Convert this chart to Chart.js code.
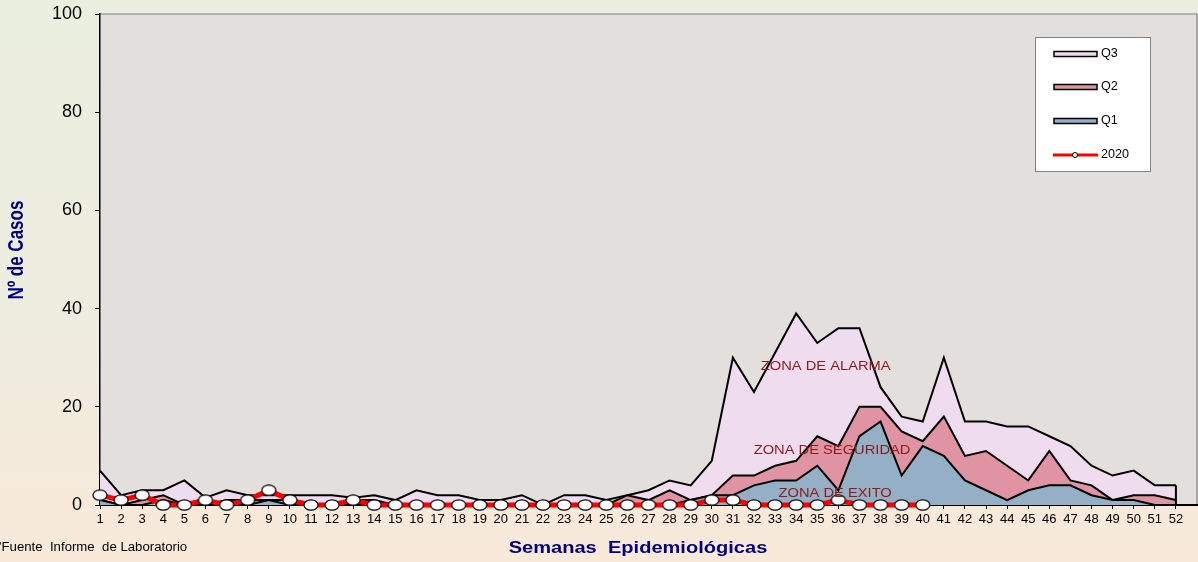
<!DOCTYPE html>
<html>
<head>
<meta charset="utf-8">
<script src="https://cdn.jsdelivr.net/npm/chart.js@4/dist/chart.umd.min.js"></script>
<style>
  html, body { margin: 0; padding: 0; background: #f3ecdd; overflow: hidden; }
  #wrap { width: 1198px; height: 562px; }
  canvas { display: block; }
</style>
</head>
<body>
<div id="wrap"><canvas id="canalChart"></canvas></div>
<script>
// semanas epidemiologicas
const weeks = Array.from({ length: 52 }, (_, i) => i + 1);
const yTicks = [0, 20, 40, 60, 80, 100];

// canal endemico (cuartiles)
const q3 = [7, 2, 3, 3, 5, 1.5, 3, 2, 2, 2, 2, 2, 1.5, 2, 1, 3, 2, 2, 1, 1, 2, 0, 2, 2, 1, 2,
  3, 5, 4, 9, 30, 23, 31, 39, 33, 36, 36, 24, 18, 17, 30, 17, 17, 16, 16, 14, 12, 8, 6, 7, 4, 4];
const q2 = [1, 0, 1, 2, 0, 0, 1, 1, 1, 1, 0, 0, 1, 1, 0, 0, 0, 0, 0, 0, 0, 0, 0, 0, 0, 2,
  1, 3, 1, 2, 6, 6, 8, 9, 14, 12, 20, 20, 15, 13, 18, 10, 11, 8, 5, 11, 5, 4, 1, 2, 2, 1];
const q1 = [1, 0, 0, 1, 0, 0, 0, 0, 1, 0, 0, 0, 0, 0, 0, 0, 0, 0, 0, 0, 0, 0, 0, 0, 0, 0,
  0, 0, 1, 2, 2, 4, 5, 5, 8, 3, 14, 17, 6, 12, 10, 5, 3, 1, 3, 4, 4, 2, 1, 1, 0, 0];
// casos 2020 (hasta semana 40)
const casos2020 = [2, 1, 2, 0, 0, 1, 0, 1, 3, 1, 0, 0, 1, 0, 0, 0, 0, 0, 0, 0, 0, 0, 0, 0, 0, 0,
  0, 0, 0, 1, 1, 0, 0, 0, 0, 1, 0, 0, 0, 0];

const zoneLabels = [
  { text: 'ZONA DE ALARMA', x: 35.4, y: 28.3 },
  { text: 'ZONA DE SEGURIDAD', x: 35.7, y: 11.2 },
  { text: 'ZONA DE EXITO', x: 35.85, y: 2.4 }
];

const toPoints = arr => arr.map((v, i) => ({ x: weeks[i], y: v }));

const COLORS = {
  q3: '#f0dcef',
  q2: '#e093a3',
  q1: '#94afc6',
  red: '#ff0000',
  navy: '#000080',
  zone: '#8b1a1a',
  plot: '#e2dfdc'
};

// white ellipse marker (the source picture is a bit stretched sideways)
function makeMarker() {
  const c = document.createElement('canvas');
  c.width = 16; c.height = 12;
  const g = c.getContext('2d');
  g.beginPath();
  g.ellipse(8, 6, 7, 5.2, 0, 0, Math.PI * 2);
  g.fillStyle = '#ffffff';
  g.fill();
  g.lineWidth = 1.2;
  g.strokeStyle = '#000000';
  g.stroke();
  return c;
}

function stretchedText(ctx, text, x, y, font, color, align, sx) {
  ctx.save();
  ctx.font = font;
  ctx.fillStyle = color;
  ctx.textBaseline = 'middle';
  ctx.textAlign = align;
  ctx.translate(x, y);
  ctx.scale(sx, 1);
  ctx.fillText(text, 0, 0);
  ctx.restore();
}

const backgroundPlugin = {
  id: 'backgroundPlugin',
  beforeDraw(chart) {
    const { ctx, chartArea: a, width, height } = chart;
    ctx.save();
    const grad = ctx.createLinearGradient(0, 0, 0, height);
    grad.addColorStop(0, '#ebefe0');
    grad.addColorStop(0.55, '#ededdf');
    grad.addColorStop(0.9, '#f7eadb');
    grad.addColorStop(1, '#f8e9da');
    ctx.fillStyle = grad;
    ctx.fillRect(0, 0, width, height);
    ctx.fillStyle = COLORS.plot;
    ctx.fillRect(a.left, a.top, a.right - a.left, a.bottom - a.top);
    ctx.strokeStyle = '#808080';
    ctx.lineWidth = 1.2;
    ctx.beginPath();
    ctx.moveTo(a.left, a.top);
    ctx.lineTo(a.right, a.top);
    ctx.lineTo(a.right, a.bottom);
    ctx.stroke();
    ctx.restore();
  }
};

const decorPlugin = {
  id: 'decorPlugin',
  afterDatasetsDraw(chart) {
    // closing edge of the area at the last week, like the source
    const { ctx, scales: { x, y } } = chart;
    const last = weeks.length - 1;
    ctx.save();
    ctx.strokeStyle = '#000';
    ctx.lineWidth = 2;
    ctx.beginPath();
    ctx.moveTo(x.getPixelForValue(weeks[last]), y.getPixelForValue(q3[last]));
    ctx.lineTo(x.getPixelForValue(weeks[last]), y.getPixelForValue(0));
    ctx.stroke();
    ctx.restore();
  },
  afterDraw(chart) {
    const { ctx, scales: { x, y } } = chart;

    zoneLabels.forEach(z => {
      stretchedText(ctx, z.text, x.getPixelForValue(z.x), y.getPixelForValue(z.y),
        '13px "Liberation Sans", Arial, sans-serif', COLORS.zone, 'center', 1.13);
    });

    // axis titles
    stretchedText(ctx, 'Semanas  Epidemiológicas', 638, 548,
      'bold 17px "Liberation Sans", Arial, sans-serif', COLORS.navy, 'center', 1.18);
    ctx.save();
    ctx.translate(17, 250);
    ctx.rotate(-Math.PI / 2);
    ctx.scale(1, 1.3);
    ctx.font = 'bold 17px "Liberation Sans", Arial, sans-serif';
    ctx.fillStyle = COLORS.navy;
    ctx.textAlign = 'center';
    ctx.textBaseline = 'middle';
    ctx.fillText('Nº de Casos', 0, 0);
    ctx.restore();

    stretchedText(ctx, "'Fuente  Informe  de Laboratorio", -1, 548,
      '12px "Liberation Sans", Arial, sans-serif', '#000', 'left', 1.1);

    // legend box
    const bx = 1035, by = 37, bw = 115, bh = 134;
    ctx.save();
    ctx.fillStyle = '#ffffff';
    ctx.fillRect(bx, by, bw, bh);
    ctx.strokeStyle = '#808080';
    ctx.lineWidth = 1;
    ctx.strokeRect(bx + 0.5, by + 0.5, bw, bh);
    const items = [
      { label: 'Q3', color: COLORS.q3, y: 54 },
      { label: 'Q2', color: COLORS.q2, y: 87 },
      { label: 'Q1', color: COLORS.q1, y: 121 }
    ];
    items.forEach(it => {
      ctx.fillStyle = it.color;
      ctx.fillRect(1054, it.y - 2.5, 43, 5);
      ctx.strokeStyle = '#000';
      ctx.lineWidth = 1.5;
      ctx.strokeRect(1054, it.y - 2.5, 43, 5);
      stretchedText(ctx, it.label, 1101, it.y, '12px "Liberation Sans", Arial, sans-serif', '#000', 'left', 1.05);
    });
    ctx.strokeStyle = COLORS.red;
    ctx.lineWidth = 3;
    ctx.beginPath();
    ctx.moveTo(1053, 155);
    ctx.lineTo(1098, 155);
    ctx.stroke();
    ctx.beginPath();
    ctx.arc(1075, 155, 2.5, 0, Math.PI * 2);
    ctx.fillStyle = '#fff';
    ctx.fill();
    ctx.strokeStyle = '#000';
    ctx.lineWidth = 1;
    ctx.stroke();
    stretchedText(ctx, '2020', 1101, 155, '12px "Liberation Sans", Arial, sans-serif', '#000', 'left', 1.05);
    ctx.restore();
  }
};

const ctx = document.getElementById('canalChart').getContext('2d');

new Chart(ctx, {
  type: 'line',
  data: {
    datasets: [
      {
        label: '2020',
        data: toPoints(casos2020),
        borderColor: COLORS.red,
        borderWidth: 5,
        fill: false,
        pointStyle: makeMarker(),
        pointRadius: 6,
        tension: 0,
        clip: false
      },
      {
        label: 'Q1',
        data: toPoints(q1),
        borderColor: '#000',
        borderWidth: 2,
        backgroundColor: COLORS.q1,
        fill: 'origin',
        pointRadius: 0,
        tension: 0
      },
      {
        label: 'Q2',
        data: toPoints(q2),
        borderColor: '#000',
        borderWidth: 2,
        backgroundColor: COLORS.q2,
        fill: 'origin',
        pointRadius: 0,
        tension: 0
      },
      {
        label: 'Q3',
        data: toPoints(q3),
        borderColor: '#000',
        borderWidth: 2,
        backgroundColor: COLORS.q3,
        fill: 'origin',
        pointRadius: 0,
        tension: 0
      }
    ]
  },
  options: {
    responsive: true,
    maintainAspectRatio: false,
    animation: false,
    layout: {
      autoPadding: false,
      padding: { top: 14, right: 1, left: 0, bottom: 0 }
    },
    scales: {
      x: {
        type: 'linear',
        min: 1,
        max: 53,
        afterFit: scale => {
          scale.height = 57;
          scale.paddingLeft = 0;
          scale.paddingRight = 0;
        },
        afterBuildTicks: axis => {
          axis.ticks = weeks.map(w => ({ value: w }));
        },
        grid: {
          drawOnChartArea: false,
          drawTicks: true,
          tickLength: 4,
          color: '#000'
        },
        border: { color: '#000', width: 2 },
        ticks: {
          autoSkip: false,
          maxRotation: 0,
          padding: 3,
          color: '#000',
          font: { family: '"Liberation Sans", Arial, sans-serif', size: 13 }
        }
      },
      y: {
        min: 0,
        max: 100,
        afterFit: scale => {
          scale.width = 100;
          scale.paddingTop = 0;
          scale.paddingBottom = 0;
        },
        afterBuildTicks: axis => {
          axis.ticks = yTicks.map(v => ({ value: v }));
        },
        grid: {
          drawOnChartArea: false,
          drawTicks: true,
          tickLength: 5,
          color: '#000'
        },
        border: { color: '#000', width: 1.5 },
        ticks: {
          padding: 13,
          color: '#000',
          font: { family: '"Liberation Sans", Arial, sans-serif', size: 18 }
        }
      }
    },
    plugins: {
      legend: { display: false },
      title: { display: false },
      tooltip: { enabled: false }
    }
  },
  plugins: [backgroundPlugin, decorPlugin]
});
</script>
</body>
</html>
